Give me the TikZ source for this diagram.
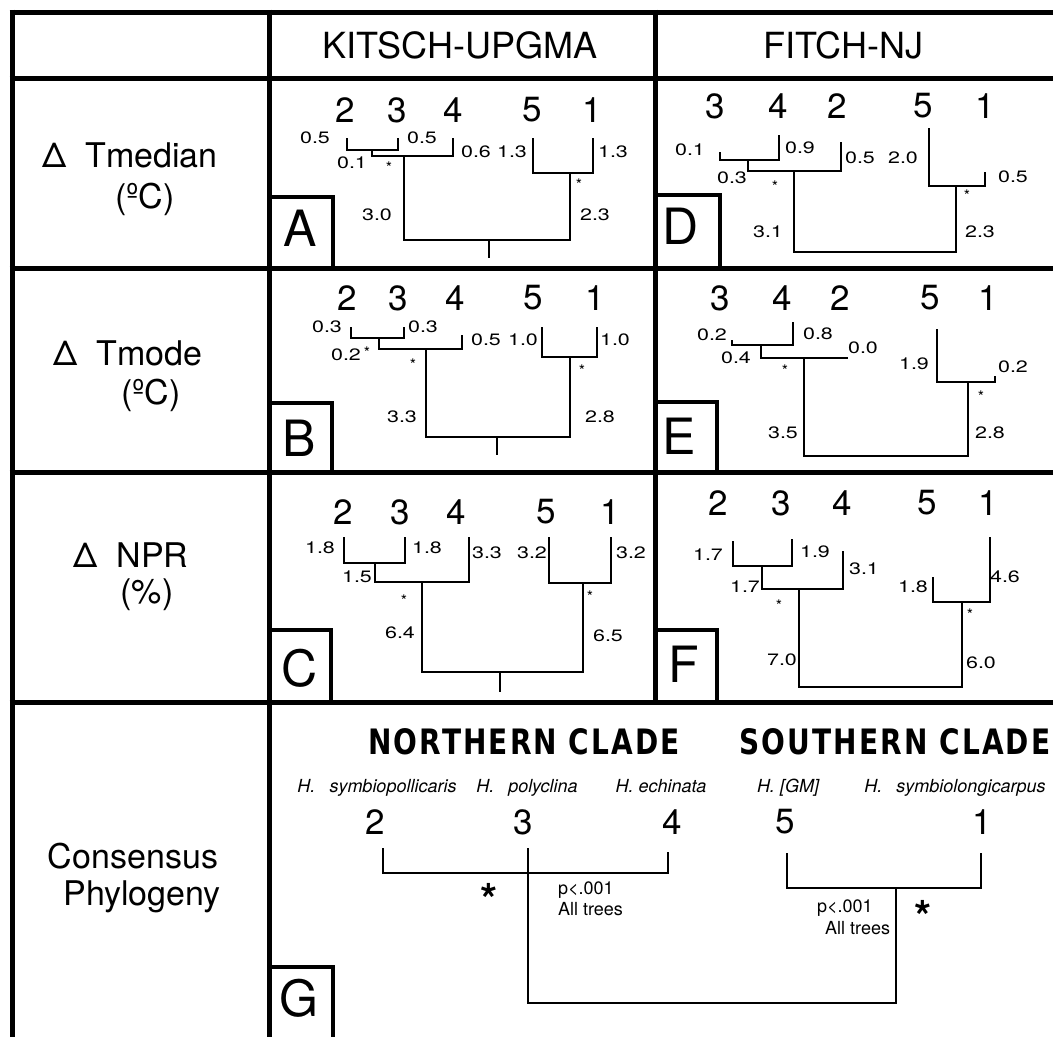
\documentclass[tikz,border=0pt]{standalone}
\usepackage{fontspec}
\setmainfont{TeX Gyre Heros}
\newfontfamily\blfont[FakeStretch=1.3]{TeX Gyre Heros}
\newfontfamily\cladefont[FakeStretch=0.8,LetterSpace=6]{DejaVu Sans}
\newcommand\fsz[1]{\fontsize{#1}{#1}\selectfont}
\newcommand\dlt{Δ\hspace{0.55em}}
\tikzset{
  grid/.style={line width=5pt},
  boxline/.style={line width=3.5pt},
  tree/.style={line width=1.6pt},
  every node/.style={inner sep=0pt, outer sep=0pt},
  rowlab/.style={anchor=base, font={\fsz{34}}},
  colhead/.style={anchor=base, font={\fsz{36}}},
  leaf/.style={font={\fsz{35}}},
  bl/.style={font={\blfont\fsz{16.5}}},
  ast/.style={font={\fsz{16}}, yshift=-3.3pt},
  letter/.style={font={\fsz{50}}},
  species/.style={anchor=base, font={\itshape\fsz{18}}},
  clade/.style={anchor=base, font={\cladefont\bfseries\fsz{35}}},
  pval/.style={anchor=base west, font={\fsz{18}}},
  bigast/.style={font={\bfseries\fsz{44}}, yshift=-9pt},
}
\begin{document}
\begin{tikzpicture}[x=1pt,y=-1pt]
\useasboundingbox (0,0) rectangle (1053,1037);
% ---------- grid ----------
\foreach \yy in {12,78,268,472,702} \draw[grid] (9.5,\yy) -- (1053,\yy);
\draw[grid] (12,9.5) -- (12,1037);
\draw[grid] (269,9.5) -- (269,1037);
\draw[grid] (655,9.5) -- (655,704.5);
% letter boxes
\draw[boxline] (269,197) -- (333,197) -- (333,268);
\draw[boxline] (269,403) -- (332,403) -- (332,472);
\draw[boxline] (269,630) -- (331,630) -- (331,702);
\draw[boxline] (655,195) -- (720,195) -- (720,268);
\draw[boxline] (655,402) -- (717,402) -- (717,472);
\draw[boxline] (655,630) -- (717,630) -- (717,702);
\draw[boxline] (269,967) -- (333,967) -- (333,1037);
\node[letter] (LA) at (300,228) {A};
\node[letter] (LB) at (299,438) {B};
\node[letter] (LC) at (300,668) {C};
\node[letter] (LD) at (681,226) {D};
\node[letter] (LE) at (679,436) {E};
\node[letter] (LF) at (684,664) {F};
\node[letter] (LG) at (299,998) {G};
% ---------- headers ----------
\node[colhead] (hK) at (460,58) {KITSCH-UPGMA};
\node[colhead] (hF) at (843,58) {FITCH-NJ};
\node[rowlab] (r1a) at (130,167) {\dlt Tmedian};
\node[rowlab] (r1b) at (145,208) {(ºC)};
\node[rowlab] (r2a) at (128,365) {\dlt Tmode};
\node[rowlab] (r2b) at (151,404) {(ºC)};
\node[rowlab] (r3a) at (131,567) {\dlt NPR};
\node[rowlab] (r3b) at (147,603) {(\%)};
\node[rowlab] (r4a) at (133,868) {Consensus};
\node[rowlab] (r4b) at (142,905) {Phylogeny};
% ---------- panel A ----------
\node[leaf] (nA2) at (345,110) {2};
\node[leaf] (nA3) at (397,110) {3};
\node[leaf] (nA4) at (453,110) {4};
\node[leaf] (nA5) at (532,110) {5};
\node[leaf] (nA1) at (592,110) {1};
\coordinate (A2) at (347,138);
\coordinate (A3) at (398,138);
\coordinate (A23) at (372,150);
\coordinate (A4) at (453,138);
\coordinate (AL) at (404,156);
\coordinate (A5) at (533,138);
\coordinate (A1) at (593,138);
\coordinate (AR) at (570,173);
\coordinate (AT) at (489,240);
\coordinate (AS) at (489,258);
\draw[tree] (A2) |- (A23) -| (A3);
\draw[tree] (A23) |- (AL) -| (A4);
\draw[tree] (A5) |- (AR) -| (A1);
\draw[tree] (AL) |- (AT) -| (AR);
\draw[tree] (AT) -- (AS);
\node[bl] (bA1) at (315,138) {0.5};
\node[bl] (bA2) at (422,138) {0.5};
\node[bl] (bA3) at (352,163) {0.1};
\node[ast] (sA1) at (389,164) {*};
\node[bl] (bA4) at (476,152) {0.6};
\node[bl] (bA5) at (512,152) {1.3};
\node[bl] (bA6) at (613,152) {1.3};
\node[ast] (sA2) at (579,181) {*};
\node[bl] (bA7) at (377,215) {3.0};
\node[bl] (bA8) at (595,215) {2.3};
% ---------- panel B ----------
\node[leaf] (nB2) at (347,298) {2};
\node[leaf] (nB3) at (398,298) {3};
\node[leaf] (nB4) at (455,298) {4};
\node[leaf] (nB5) at (533,298) {5};
\node[leaf] (nB1) at (595,298) {1};
\coordinate (B2) at (351,327);
\coordinate (B3) at (404,327);
\coordinate (B23) at (379,338);
\coordinate (B4) at (462,335);
\coordinate (BL) at (426,349);
\coordinate (B5) at (542,327);
\coordinate (B1) at (597,327);
\coordinate (BR) at (570,357);
\coordinate (BT) at (497,437);
\coordinate (BS) at (497,455);
\draw[tree] (B2) |- (B23) -| (B3);
\draw[tree] (B23) |- (BL) -| (B4);
\draw[tree] (B5) |- (BR) -| (B1);
\draw[tree] (BL) |- (BT) -| (BR);
\draw[tree] (BT) -- (BS);
\node[bl] (bB1) at (327,327) {0.3};
\node[bl] (bB2) at (423,327) {0.3};
\node[bl] (bB3) at (346,355) {0.2};
\node[ast] (sB1) at (367,349) {*};
\node[ast] (sB2) at (413,361) {*};
\node[bl] (bB4) at (486,340) {0.5};
\node[bl] (bB5) at (523,340) {1.0};
\node[bl] (bB6) at (615,340) {1.0};
\node[ast] (sB3) at (582,367) {*};
\node[bl] (bB7) at (402,417) {3.3};
\node[bl] (bB8) at (600,417) {2.8};
% ---------- panel C ----------
\node[leaf] (nC2) at (343,512) {2};
\node[leaf] (nC3) at (400,512) {3};
\node[leaf] (nC4) at (456,512) {4};
\node[leaf] (nC5) at (546,512) {5};
\node[leaf] (nC1) at (610,512) {1};
\coordinate (C2) at (344,537);
\coordinate (C3) at (405,537);
\coordinate (C23) at (375,563);
\coordinate (C4) at (469,537);
\coordinate (CL) at (422,582);
\coordinate (C5) at (549,537);
\coordinate (C1) at (611,537);
\coordinate (CR) at (583,583);
\coordinate (CT) at (500,672);
\coordinate (CS) at (500,692);
\draw[tree] (C2) |- (C23) -| (C3);
\draw[tree] (C23) |- (CL) -| (C4);
\draw[tree] (C5) |- (CR) -| (C1);
\draw[tree] (CL) |- (CT) -| (CR);
\draw[tree] (CT) -- (CS);
\node[bl] (bC1) at (320,548) {1.8};
\node[bl] (bC2) at (427,548) {1.8};
\node[bl] (bC3) at (357,577) {1.5};
\node[ast] (sC1) at (404,597) {*};
\node[bl] (bC4) at (487,553) {3.3};
\node[bl] (bC5) at (532,553) {3.2};
\node[bl] (bC6) at (631,553) {3.2};
\node[ast] (sC2) at (590,593) {*};
\node[bl] (bC7) at (400,633) {6.4};
\node[bl] (bC8) at (608,636) {6.5};
% ---------- panel D ----------
\node[leaf] (nD3) at (715,106) {3};
\node[leaf] (nD4) at (778,106) {4};
\node[leaf] (nD2) at (837,106) {2};
\node[leaf] (nD5) at (923,106) {5};
\node[leaf] (nD1) at (985,106) {1};
\coordinate (D3) at (720,152);
\coordinate (D4) at (779,135);
\coordinate (D34) at (748,160);
\coordinate (D2) at (841,142);
\coordinate (DL) at (794,171);
\coordinate (D5) at (929,128);
\coordinate (D1) at (985,172);
\coordinate (DR) at (956,186);
\coordinate (DT) at (875,252);
\draw[tree] (D3) |- (D34) -| (D4);
\draw[tree] (D34) |- (DL) -| (D2);
\draw[tree] (D5) |- (DR) -| (D1);
\draw[tree] (DL) |- (DT) -| (DR);
\node[bl] (bD1) at (690,150) {0.1};
\node[bl] (bD2) at (800,148) {0.9};
\node[bl] (bD3) at (732,178) {0.3};
\node[ast] (sD1) at (775,183) {*};
\node[bl] (bD4) at (860,158) {0.5};
\node[bl] (bD5) at (903,158) {2.0};
\node[bl] (bD6) at (1013,177) {0.5};
\node[ast] (sD2) at (967,192) {*};
\node[bl] (bD7) at (768,232) {3.1};
\node[bl] (bD8) at (980,232) {2.3};
% ---------- panel E ----------
\node[leaf] (nE3) at (720,298) {3};
\node[leaf] (nE4) at (782,298) {4};
\node[leaf] (nE2) at (840,298) {2};
\node[leaf] (nE5) at (930,298) {5};
\node[leaf] (nE1) at (988,298) {1};
\coordinate (E3) at (732,340);
\coordinate (E4) at (793,322);
\coordinate (E34) at (761,345);
\coordinate (EL) at (804,358);
\coordinate (E2) at (848,358);
\coordinate (E5) at (937,329);
\coordinate (E1) at (995,376);
\coordinate (ER) at (968,382);
\coordinate (ET) at (886,456);
\draw[tree] (E3) |- (E34) -| (E4);
\draw[tree] (E34) |- (EL) -- (E2);
\draw[tree] (E5) |- (ER) -| (E1);
\draw[tree] (EL) |- (ET) -| (ER);
\node[bl] (bE1) at (712,335) {0.2};
\node[bl] (bE2) at (818,334) {0.8};
\node[bl] (bE3) at (736,358) {0.4};
\node[ast] (sE1) at (785,367) {*};
\node[bl] (bE4) at (863,348) {0.0};
\node[bl] (bE5) at (914,364) {1.9};
\node[bl] (bE6) at (1013,367) {0.2};
\node[ast] (sE2) at (981,393) {*};
\node[bl] (bE7) at (783,433) {3.5};
\node[bl] (bE8) at (990,433) {2.8};
% ---------- panel F ----------
\node[leaf] (nF2) at (718,503) {2};
\node[leaf] (nF3) at (781,503) {3};
\node[leaf] (nF4) at (842,503) {4};
\node[leaf] (nF5) at (927,503) {5};
\node[leaf] (nF1) at (988,503) {1};
\coordinate (F2) at (733,541);
\coordinate (F3) at (792,539);
\coordinate (F23) at (762,566);
\coordinate (F4) at (843,551);
\coordinate (FL) at (799,589);
\coordinate (F5) at (933,577);
\coordinate (F1) at (990,537);
\coordinate (FR) at (962,602);
\coordinate (FT) at (880,687);
\draw[tree] (F2) |- (F23) -| (F3);
\draw[tree] (F23) |- (FL) -| (F4);
\draw[tree] (F5) |- (FR) -| (F1);
\draw[tree] (FL) |- (FT) -| (FR);
\node[bl] (bF1) at (708,555) {1.7};
\node[bl] (bF2) at (815,552) {1.9};
\node[bl] (bF3) at (745,587) {1.7};
\node[ast] (sF1) at (779,602) {*};
\node[bl] (bF4) at (864,569) {3.1};
\node[bl] (bF5) at (913,587) {1.8};
\node[bl] (bF6) at (1005,577) {4.6};
\node[ast] (sF2) at (970,611) {*};
\node[bl] (bF7) at (782,660) {7.0};
\node[bl] (bF8) at (981,663) {6.0};
% ---------- panel G ----------
\node[clade] (ncl) at (524,754) {NORTHERN CLADE};
\node[clade] (scl) at (895,754) {SOUTHERN CLADE};
\node[species] (sp2) at (377,792) {H.\hspace{0.5em} symbiopollicaris};
\node[species] (sp3) at (527,792) {H.\hspace{0.5em} polyclina};
\node[species] (sp4) at (661,792) {H. echinata};
\node[species] (sp5) at (788,792) {H. [GM]};
\node[species] (sp1) at (955,792) {H.\hspace{0.5em} symbiolongicarpus};
\node[leaf] (nG2) at (375,822) {2};
\node[leaf] (nG3) at (523,822) {3};
\node[leaf] (nG4) at (672,822) {4};
\node[leaf] (nG5) at (785,822) {5};
\node[leaf] (nG1) at (982,822) {1};
\coordinate (G2) at (383,848);
\coordinate (G3) at (528,848);
\coordinate (G4) at (668,852);
\coordinate (GL) at (528,873);
\coordinate (G5) at (787,853);
\coordinate (G1) at (981,853);
\coordinate (GR) at (896,888);
\coordinate (GT) at (712,1003);
\draw[tree] (G2) |- (GL) -| (G4);
\draw[tree] (G3) -- (GL);
\draw[tree] (GL) |- (GT) -| (GR);
\draw[tree] (G5) |- (GR) -| (G1);
\node[bigast] (gs1) at (489,890) {*};
\node[bigast] (gs2) at (923,907) {*};
\node[pval] (pv1) at (558,894) {p<.001};
\node[pval] (at1) at (558,915) {All trees};
\node[pval] (pv2) at (817,912) {p<.001};
\node[pval, anchor=base east] (at2) at (890,934) {All trees};
\end{tikzpicture}
\end{document}
